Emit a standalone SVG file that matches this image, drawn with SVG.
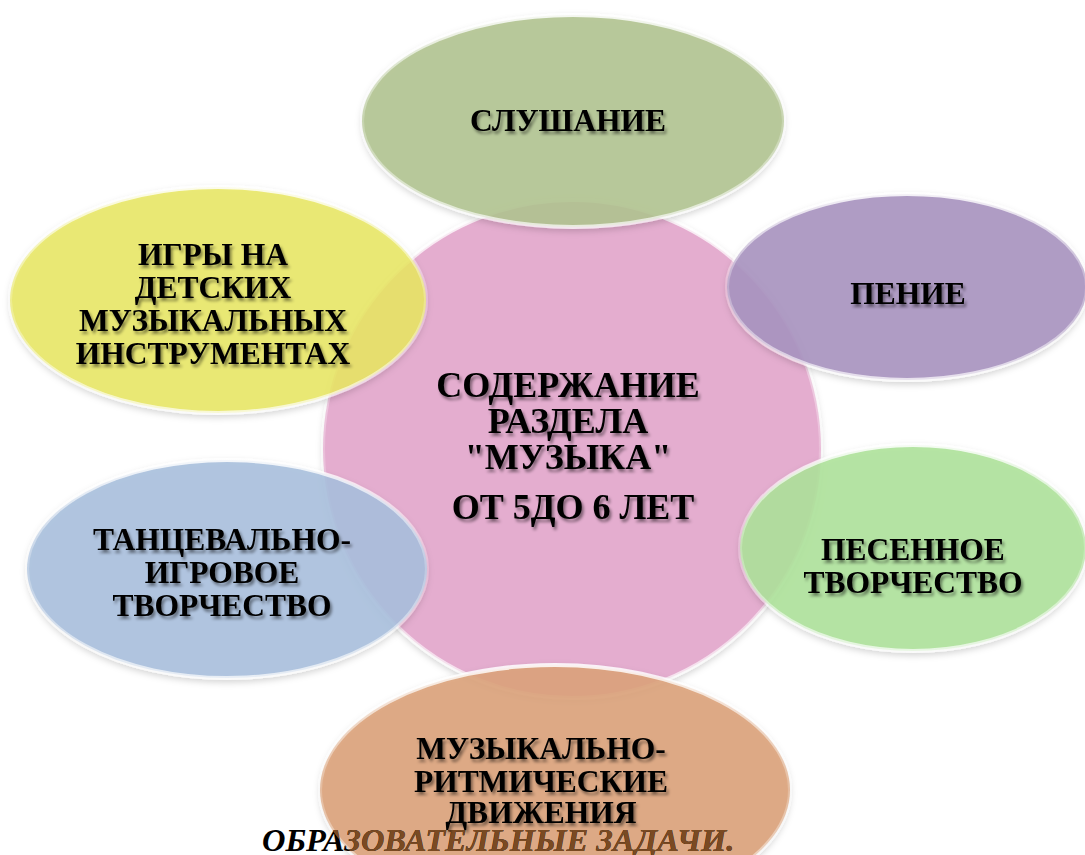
<svg xmlns="http://www.w3.org/2000/svg" width="1085" height="855" viewBox="0 0 1085 855">
<style>
.lbl{font-family:"Liberation Serif","Times New Roman",serif;font-weight:bold;font-size:31.5px;fill:#000;text-anchor:middle;filter:url(#tsh)}
.big{font-size:36px}
.bub{stroke:url(#rim);stroke-width:4;filter:url(#bsh)}
.title{font-family:"Liberation Serif","Times New Roman",serif;font-weight:bold;font-style:italic;font-size:32.5px}
</style>
<defs>
<filter id="tsh" x="-10%" y="-30%" width="120%" height="160%">
<feDropShadow dx="2" dy="3" stdDeviation="1.6" flood-color="#000" flood-opacity="0.45"/>
</filter>
<filter id="bsh" x="-10%" y="-10%" width="120%" height="125%">
<feDropShadow dx="0" dy="3" stdDeviation="3" flood-color="#000" flood-opacity="0.18"/>
</filter>
<linearGradient id="rim" x1="0" y1="0" x2="0" y2="1">
<stop offset="0" stop-color="#fff" stop-opacity="0.85"/>
<stop offset="0.5" stop-color="#fff" stop-opacity="0.2"/>
<stop offset="1" stop-color="#fff" stop-opacity="0.7"/>
</linearGradient>
<clipPath id="orangeClip"><ellipse cx="555" cy="790" rx="235" ry="125"/></clipPath>
</defs>
<rect width="1085" height="855" fill="#fff"/>

<g id="center">
<circle class="bub" cx="572" cy="449" r="249" fill="#e4aacd" fill-opacity="0.95"/>
</g>

<g id="n-listening">
<ellipse class="bub" cx="573" cy="121" rx="211" ry="106" fill="#b1c48f" fill-opacity="0.88"/>
<text class="lbl" x="568" y="131">СЛУШАНИЕ</text>
</g>

<g id="n-instruments">
<ellipse class="bub" cx="218" cy="300" rx="208" ry="113" fill="#e9e860" fill-opacity="0.85"/>
<text class="lbl" x="213" y="265">ИГРЫ НА</text>
<text class="lbl" x="213" y="298">ДЕТСКИХ</text>
<text class="lbl" x="213" y="331">МУЗЫКАЛЬНЫХ</text>
<text class="lbl" x="213" y="364">ИНСТРУМЕНТАХ</text>
</g>

<g id="n-singing">
<ellipse class="bub" cx="907" cy="287" rx="180" ry="93" fill="#a893c0" fill-opacity="0.9"/>
<text class="lbl" x="908" y="304">ПЕНИЕ</text>
</g>

<g id="n-dance">
<ellipse class="bub" cx="227" cy="569" rx="200" ry="109" fill="#a9bfdd" fill-opacity="0.88"/>
<text class="lbl" x="222" y="550">ТАНЦЕВАЛЬНО-</text>
<text class="lbl" x="222" y="583">ИГРОВОЕ</text>
<text class="lbl" x="222" y="616">ТВОРЧЕСТВО</text>
</g>

<g id="n-song">
<ellipse class="bub" cx="913" cy="548" rx="173" ry="103" fill="#ade39a" fill-opacity="0.88"/>
<text class="lbl" x="913" y="560">ПЕСЕННОЕ</text>
<text class="lbl" x="913" y="593">ТВОРЧЕСТВО</text>
</g>

<g id="n-rhythm">
<ellipse class="bub" cx="555" cy="790" rx="235" ry="125" fill="#dca37b" fill-opacity="0.9"/>
</g>

<g id="title">
<text class="title" x="262" y="851" fill="#000">ОБРАЗОВАТЕЛЬНЫЕ ЗАДАЧИ.</text>
<text class="title" x="262" y="851" fill="#7a4a22" clip-path="url(#orangeClip)">ОБРАЗОВАТЕЛЬНЫЕ ЗАДАЧИ.</text>
</g>

<g id="n-rhythm-label">
<text class="lbl" x="541" y="759">МУЗЫКАЛЬНО-</text>
<text class="lbl" x="541" y="792">РИТМИЧЕСКИЕ</text>
<text class="lbl" x="541" y="823">ДВИЖЕНИЯ</text>
</g>

<g id="center-label">
<text class="lbl big" x="568" y="397">СОДЕРЖАНИЕ</text>
<text class="lbl big" x="568" y="433">РАЗДЕЛА</text>
<text class="lbl big" x="568" y="469">"МУЗЫКА"</text>
<text class="lbl big" x="573" y="519">ОТ 5ДО 6 ЛЕТ</text>
</g>

<g id="connectors"></g>
</svg>
